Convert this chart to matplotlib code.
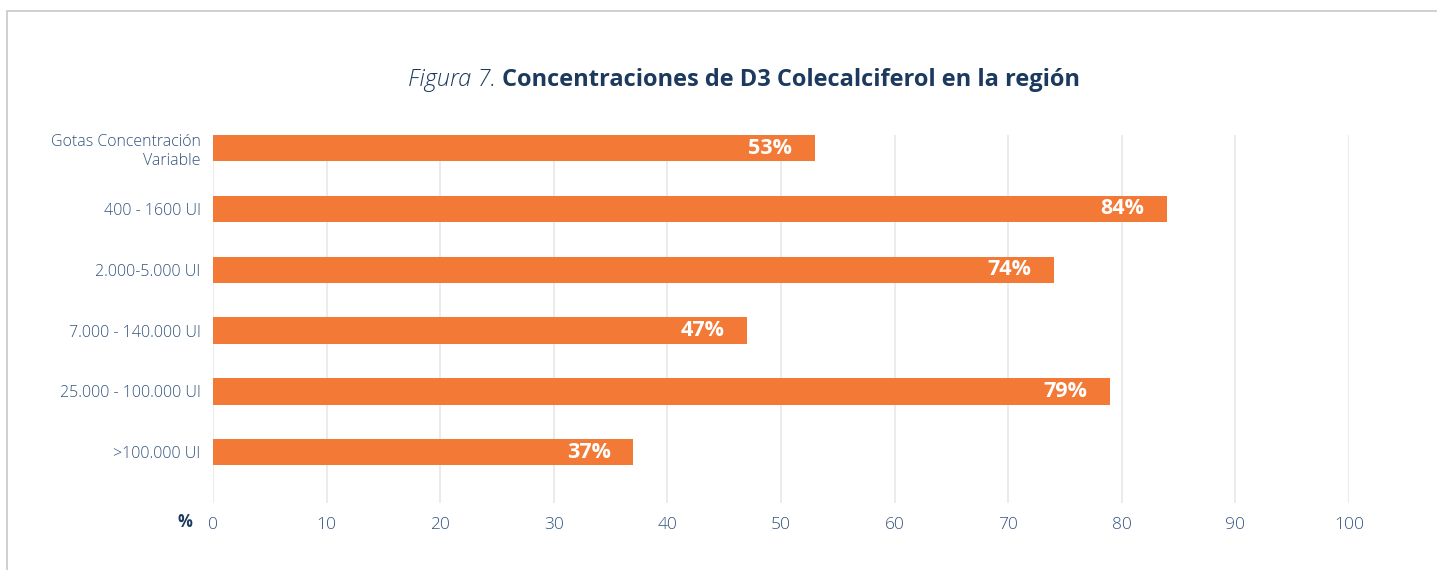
import matplotlib
matplotlib.use("Agg")
import matplotlib.pyplot as plt
from matplotlib.patches import Rectangle

categories = ["Gotas Concentración\nVariable", "400 - 1600 UI", "2.000-5.000 UI",
              "7.000 - 140.000 UI", "25.000 - 100.000 UI", ">100.000 UI"]
values = [53, 84, 74, 47, 79, 37]
xticks = [0, 10, 20, 30, 40, 50, 60, 70, 80, 90, 100]

W, H = 1437, 570
DPI = 100
plt.rcParams['font.family'] = ['Open Sans', 'DejaVu Sans']

fig = plt.figure(figsize=(W / DPI, H / DPI), dpi=DPI)
fig.patch.set_facecolor('white')

# frame border
fig.patches.append(Rectangle((7 / W, -0.1), 1.2, 1 - 11 / H + 0.1, transform=fig.transFigure,
                             fill=False, edgecolor='#C8C8C8', linewidth=1.2))

ax_l, ax_r = 213 / W, 1349 / W
ax_t, ax_b = 1 - 135 / H, 1 - 503 / H
ax = fig.add_axes([ax_l, ax_b, ax_r - ax_l, ax_t - ax_b])

orange = '#F37A36'
tick_col = '#34547E'
navy = '#1B3A5E'

pos = list(range(len(categories)))
ax.barh(pos, values, height=0.435, color=orange, zorder=3)
ax.set_ylim(5.836, -0.217)
ax.set_xlim(0, 100)

for p, v in zip(pos, values):
    ax.text(v - 2.0, p, f"{v}%", ha='right', va='center', color='white',
            fontsize=15.5, fontweight='bold', zorder=4)

ax.set_yticks(pos)
ax.set_yticklabels(categories, fontsize=11.5, color=tick_col, fontweight='light')
ax.set_xticks(xticks)
ax.set_xticklabels([str(t) for t in xticks], fontsize=12.5, color=tick_col, fontweight='light')
ax.tick_params(axis='both', length=0)
ax.tick_params(axis='y', pad=9)
ax.tick_params(axis='x', pad=10)
ax.grid(axis='x', color='#E8E8E8', linewidth=1.2, zorder=0)
for s in ax.spines.values():
    s.set_visible(False)

fig.text(185 / W, 1 - 522 / H, "%", ha='center', va='center', fontsize=12,
         fontweight='bold', color=navy)

# title
t1 = fig.text(0.5, 1 - 80 / H, "Figura 7. ", ha='left', va='center', fontsize=17,
              style='italic', fontweight='light', color=navy)
t2 = fig.text(0.5, 1 - 80 / H, "Concentraciones de D3 Colecalciferol en la región",
              ha='left', va='center', fontsize=17, fontweight='bold', color=navy)
fig.canvas.draw()
r = fig.canvas.get_renderer()
w1 = t1.get_window_extent(r).width
w2 = t2.get_window_extent(r).width
total = w1 + w2
start = 744 - total / 2
t1.set_x(start / W)
t2.set_x((start + w1) / W)

fig.savefig("out.png", dpi=DPI, facecolor='white')
